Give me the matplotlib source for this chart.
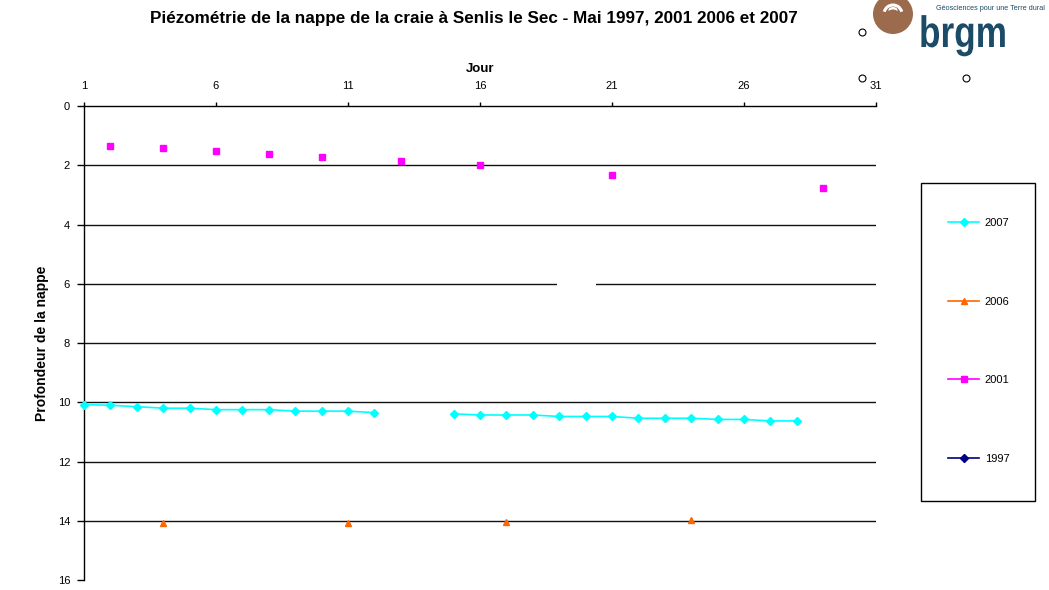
import matplotlib
matplotlib.use("Agg")
import matplotlib.pyplot as plt
from matplotlib.patches import Rectangle, Ellipse, Arc, PathPatch
from matplotlib.lines import Line2D
from matplotlib.textpath import TextPath
from matplotlib.font_manager import FontProperties
from matplotlib.transforms import Affine2D

plt.rcParams['font.family'] = ['Liberation Sans', 'DejaVu Sans']

# ---- data ----
days_2007 = [1, 2, 3, 4, 5, 6, 7, 8, 9, 10, 11, 12,
             15, 16, 17, 18, 19, 20, 21, 22, 23, 24, 25, 26, 27, 28]
vals_2007 = [10.08, 10.10, 10.15, 10.20, 10.20, 10.25, 10.25, 10.25, 10.30, 10.30, 10.30, 10.35,
             10.39, 10.43, 10.43, 10.43, 10.48, 10.48, 10.48, 10.54, 10.54, 10.54, 10.58, 10.58, 10.63, 10.63]
days_2006 = [4, 11, 17, 24]
vals_2006 = [14.08, 14.08, 14.03, 13.98]
days_2001 = [2, 4, 6, 8, 10, 13, 16, 21, 29]
vals_2001 = [1.34, 1.42, 1.53, 1.62, 1.71, 1.85, 2.00, 2.32, 2.76]
days_1997 = []
vals_1997 = []

x_ticks = [1, 6, 11, 16, 21, 26, 31]
y_ticks = [0, 2, 4, 6, 8, 10, 12, 14, 16]
grid_levels = [2, 4, 6, 8, 10, 12, 14]

title = "Piézométrie de la nappe de la craie à Senlis le Sec - Mai 1997, 2001 2006 et 2007"
logo_tagline = "Géosciences pour une Terre dural"

W, H = 1049, 590
fig = plt.figure(figsize=(W / 100, H / 100), dpi=100)
fig.patch.set_facecolor('white')

def fx(px):
    return px / W

def fy(py):
    return 1 - py / H

ax = fig.add_axes([fx(84), fy(580), fx(876) - fx(84), fy(106) - fy(580)])
ax.set_xlim(1, 31)
ax.set_ylim(16, 0)

for g in grid_levels:
    ax.axhline(g, color='#111111', lw=1.0, zorder=1)
# gap in the 6 m gridline
ax.add_patch(Rectangle((18.9, 5.85), 1.5, 0.3, facecolor='white', edgecolor='none', zorder=1.5))

l07, = ax.plot(days_2007[:12], vals_2007[:12], color='#00FFFF', lw=1.2, marker='D', ms=4, zorder=3, clip_on=False)
ax.plot(days_2007[12:], vals_2007[12:], color='#00FFFF', lw=1.2, marker='D', ms=4, zorder=3, clip_on=False)
l06, = ax.plot(days_2006, vals_2006, color='#FF6600', lw=0, marker='^', ms=5, zorder=3)
l01, = ax.plot(days_2001, vals_2001, color='#FF00FF', lw=0, marker='s', ms=4, zorder=3)
l97, = ax.plot(days_1997, vals_1997, color='#000080', lw=1.2, marker='D', ms=4, zorder=3)

for s in ['right', 'bottom']:
    ax.spines[s].set_visible(False)
ax.spines['left'].set_linewidth(1.0)
ax.spines['top'].set_linewidth(1.0)

ax.xaxis.tick_top()
ax.xaxis.set_label_position('top')
ax.set_xticks(x_ticks)
ax.set_xticklabels([str(v) for v in x_ticks])
ax.set_yticks(y_ticks)
ax.set_yticklabels([str(v) for v in y_ticks])
ax.tick_params(axis='x', direction='out', length=3, width=1, pad=8, labelsize=8)
ax.tick_params(axis='y', direction='out', length=5, width=1, pad=5, labelsize=8)
ax.set_xlabel('Jour', fontsize=9.5, fontweight='bold', labelpad=6)
ax.set_ylabel('Profondeur de la nappe', fontsize=10, fontweight='bold', labelpad=6)

fig.text(fx(474), fy(18), title, ha='center', va='center', fontsize=12.3, fontweight='bold')

# legend
fig.patches.append(Rectangle((fx(921), fy(501)), fx(1035) - fx(921), fy(183) - fy(501),
                             transform=fig.transFigure, facecolor='white', edgecolor='black', lw=1.0))
leg = fig.legend([l07, l06, l01, l97], ['2007', '2006', '2001', '1997'],
                 loc='upper left', bbox_to_anchor=(fx(948), fy(218)), frameon=False,
                 fontsize=8, borderpad=0, handlelength=2.8, handletextpad=0.5,
                 labelspacing=6.18, borderaxespad=0)
for i in (1, 2):
    leg.legend_handles[i].set_linestyle('-')
    leg.legend_handles[i].set_linewidth(1.2)

# logo
fig.patches.append(Ellipse((fx(893), fy(14)), 40 / W, 40 / H, transform=fig.transFigure,
                           facecolor='#9C6A4C', edgecolor='none'))
fig.patches.append(Arc((fx(893), fy(14)), 18 / W, 18 / H, theta1=25, theta2=155,
                       transform=fig.transFigure, color='white', lw=2.2))
fig.patches.append(Ellipse((fx(893), fy(10)), 9 / W, 6 / H, transform=fig.transFigure,
                           facecolor='white', edgecolor='none'))
fig.patches.append(Ellipse((fx(893), fy(12)), 9 / W, 5 / H, transform=fig.transFigure,
                           facecolor='#9C6A4C', edgecolor='none'))
tp = TextPath((0, 0), 'brgm', size=44, prop=FontProperties(family='Liberation Sans', weight='bold'))
tr = Affine2D().scale(0.8 / W, 1.0 / H).translate(fx(919), fy(47)) + fig.transFigure
fig.patches.append(PathPatch(tp, transform=tr, facecolor='#1C4B67', edgecolor='none'))
fig.text(fx(936), fy(9), logo_tagline, fontsize=5.2, color='#1C4B67',
         ha='left', va='center')

# stray open circles
for (px, py) in [(862, 32), (862, 78), (966, 78)]:
    fig.lines.append(Line2D([fx(px)], [fy(py)], transform=fig.transFigure, marker='o', ms=5,
                            mfc='white', mec='black', mew=0.8, lw=0))

fig.savefig('out.png', dpi=100)
